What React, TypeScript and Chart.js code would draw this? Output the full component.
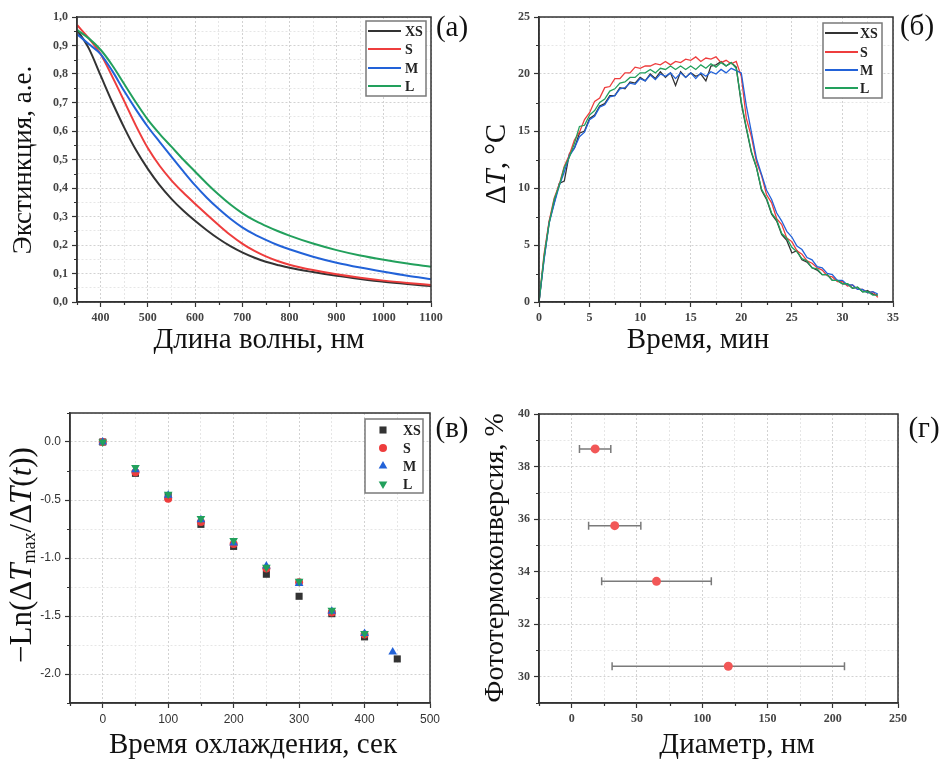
import React, { useEffect, useRef } from "react";
import { Chart, registerables } from "chart.js";
Chart.register(...registerables);

// ---------------- data: (a) extinction spectra ----------------
const wavelengthNm = [350, 375, 400, 425, 450, 475, 500, 525, 550, 575, 600, 625, 650, 675, 700, 725, 750, 775, 800, 850, 900, 950, 1000, 1050, 1100];
const extXS = [0.955, 0.89, 0.795, 0.70, 0.612, 0.533, 0.467, 0.41, 0.362, 0.321, 0.285, 0.252, 0.222, 0.196, 0.174, 0.156, 0.141, 0.13, 0.12, 0.105, 0.092, 0.081, 0.071, 0.063, 0.056];
const extS = [0.972, 0.925, 0.87, 0.79, 0.705, 0.618, 0.54, 0.478, 0.427, 0.384, 0.345, 0.307, 0.27, 0.235, 0.205, 0.18, 0.16, 0.144, 0.131, 0.112, 0.097, 0.085, 0.075, 0.067, 0.06];
const extM = [0.94, 0.905, 0.87, 0.81, 0.74, 0.675, 0.615, 0.562, 0.51, 0.459, 0.41, 0.366, 0.327, 0.292, 0.262, 0.238, 0.218, 0.2, 0.185, 0.159, 0.138, 0.121, 0.106, 0.092, 0.08];
const extL = [0.955, 0.925, 0.885, 0.83, 0.765, 0.70, 0.64, 0.59, 0.545, 0.5, 0.458, 0.416, 0.377, 0.342, 0.312, 0.287, 0.267, 0.249, 0.233, 0.205, 0.182, 0.163, 0.148, 0.135, 0.124];

// ---------------- data: (б) heating / cooling ----------------
const timeMin = [0, 0.5, 1, 1.5, 2, 2.5, 3, 3.5, 4, 4.5, 5, 5.5, 6, 6.5, 7, 7.5, 8, 8.5, 9, 9.5, 10, 10.5, 11, 11.5, 12, 12.5, 13, 13.5, 14, 14.5, 15, 15.5, 16, 16.5, 17, 17.5, 18, 18.5, 19, 19.5, 20, 20.5, 21, 21.5, 22, 22.5, 23, 23.5, 24, 24.5, 25, 25.5, 26, 26.5, 27, 27.5, 28, 28.5, 29, 29.5, 30, 30.5, 31, 31.5, 32, 32.5, 33, 33.5];
const dtXS = [0, 3.8, 7.0, 8.7, 10.4, 10.6, 13.0, 13.5, 14.8, 15.0, 16.1, 16.4, 17.2, 17.4, 18.1, 18.1, 18.8, 18.7, 19.3, 19.2, 19.7, 19.4, 20.0, 19.6, 20.2, 19.7, 20.1, 19.0, 20.2, 19.7, 20.1, 19.8, 20.0, 19.4, 20.7, 20.8, 21.1, 20.7, 21.0, 20.6, 17.4, 15.2, 13.1, 11.8, 9.8, 9.0, 7.7, 7.1, 5.9, 5.4, 4.3, 4.5, 3.7, 3.5, 3.0, 2.8, 2.4, 2.4, 1.9, 1.9, 1.6, 1.6, 1.2, 1.3, 0.9, 1.0, 0.7, 0.6];
const dtS = [0, 4.2, 7.1, 9.1, 10.3, 11.9, 12.9, 14.2, 14.9, 16.0, 16.6, 17.6, 17.9, 18.8, 18.9, 19.6, 19.6, 20.1, 20.1, 20.6, 20.5, 20.7, 20.7, 20.9, 20.8, 21.1, 20.8, 21.1, 21.0, 21.3, 21.2, 21.5, 21.1, 21.4, 21.3, 21.5, 21.0, 21.2, 20.9, 21.1, 19.8, 16.1, 14.5, 12.3, 11.1, 9.4, 8.7, 7.3, 6.8, 5.6, 5.3, 4.5, 4.2, 3.6, 3.4, 3.0, 2.8, 2.3, 2.2, 1.8, 1.8, 1.4, 1.5, 1.1, 1.1, 0.8, 0.9, 0.4];
const dtM = [0, 3.7, 6.9, 8.6, 10.2, 11.4, 12.8, 13.5, 14.5, 14.9, 16.0, 16.3, 17.1, 17.3, 18.0, 18.1, 18.7, 18.8, 19.2, 19.1, 19.6, 19.4, 19.9, 19.5, 20.0, 19.8, 20.1, 19.6, 20.1, 19.7, 20.1, 19.6, 20.1, 19.8, 20.2, 20.0, 20.4, 20.1, 20.5, 20.3, 20.1, 17.2, 14.9, 12.6, 11.2, 9.8, 9.0, 7.8, 7.1, 6.2, 5.7, 4.9, 4.6, 3.9, 3.7, 3.1, 3.0, 2.5, 2.4, 1.9, 1.9, 1.5, 1.5, 1.1, 1.1, 0.8, 0.9, 0.7];
const dtL = [0, 4.0, 6.9, 9.0, 10.2, 11.8, 12.7, 13.9, 15.4, 15.5, 16.4, 16.8, 17.5, 17.8, 18.5, 18.7, 19.2, 19.3, 19.7, 19.7, 20.1, 20.1, 20.4, 20.1, 20.5, 20.4, 20.7, 20.4, 20.7, 20.4, 20.7, 20.4, 20.8, 20.5, 20.9, 20.6, 21.0, 20.7, 21.0, 20.5, 17.6, 15.3, 13.2, 11.8, 9.9, 9.1, 7.8, 7.2, 6.0, 5.6, 4.8, 4.4, 3.8, 3.6, 3.0, 2.9, 2.4, 2.4, 1.9, 1.9, 1.6, 1.6, 1.2, 1.3, 0.9, 0.9, 0.6, 0.6];

// ---------------- data: (в) cooling linearisation ----------------
const coolTimeXS = [0, 50, 100, 150, 200, 250, 300, 350, 400, 450];
const lnXS = [0, -0.27, -0.47, -0.71, -0.9, -1.14, -1.33, -1.48, -1.68, -1.87];
const coolTimeS = [0, 50, 100, 150, 200, 250, 300, 350, 400];
const lnS = [0, -0.26, -0.49, -0.69, -0.88, -1.09, -1.21, -1.47, -1.66];
const coolTimeM = [0, 50, 100, 150, 200, 250, 300, 350, 400, 443];
const lnM = [0, -0.24, -0.46, -0.67, -0.87, -1.07, -1.22, -1.46, -1.65, -1.81];
const coolTimeL = [0, 50, 100, 150, 200, 250, 300, 350, 400];
const lnL = [0, -0.22, -0.45, -0.66, -0.85, -1.08, -1.2, -1.45, -1.65];

// ---------------- data: (г) conversion vs diameter ----------------
const diameterNm = [18, 33, 65, 120];
const diameterLow = [6, 13, 23, 31];
const diameterHigh = [30, 53, 107, 209];
const conversionPct = [38.67, 35.75, 33.63, 30.4];

const seriesNames = ["XS", "S", "M", "L"];
const seriesColors = ["#333333", "#ee3d3d", "#2262d8", "#22a05c"];

// ---------------- helpers ----------------
const serif = "'Liberation Serif', 'Times New Roman', serif";
const sans = "'Liberation Sans', Arial, sans-serif";
const tickFontSerif = { family: serif, size: 12, weight: "bold" as const };
const tickFontSans = { family: sans, size: 12 };

type Seg = { t: string; it?: boolean; sz?: number; dy?: number };
type Area = { l: number; t: number; r: number; b: number };

function isMul(v: number, m: number) {
  return Math.abs(v / m - Math.round(v / m)) < 1e-6;
}

function axis(o: { min: number; max: number; step: number; major: number; fmt: (v: number) => string; font: any; color: string }) {
  return {
    type: "linear",
    min: o.min,
    max: o.max,
    ticks: {
      stepSize: o.step,
      autoSkip: false,
      maxRotation: 0,
      minRotation: 0,
      padding: 4,
      font: o.font,
      color: o.color,
      callback: (v: any) => (isMul(Number(v), o.major) ? o.fmt(Number(v)) : ""),
    },
    grid: {
      color: (c: any) => (isMul(c.tick ? c.tick.value : 0, o.major) ? "#d2d2d2" : "#e6e6e6"),
      lineWidth: 1,
      drawTicks: true,
      tickLength: 5,
      tickWidth: 1.2,
      tickBorderDash: [],
      tickColor: (c: any) => (isMul(c.tick ? c.tick.value : 0, o.major) ? "#333" : "rgba(0,0,0,0)"),
    },
    border: { display: true, color: "#333", width: 1.5, dash: [2, 2] },
  };
}

function drawRich(ctx: CanvasRenderingContext2D, segs: Seg[], cx: number, cy: number, rot: number, size: number) {
  ctx.save();
  ctx.translate(cx, cy);
  ctx.rotate(rot);
  ctx.textBaseline = "middle";
  ctx.textAlign = "left";
  ctx.fillStyle = "#111";
  const fonts = segs.map((s) => `${s.it ? "italic " : ""}${s.sz ?? size}px ${serif}`);
  let total = 0;
  const widths = segs.map((s, i) => {
    ctx.font = fonts[i];
    const w = ctx.measureText(s.t).width;
    total += w;
    return w;
  });
  let x = -total / 2;
  segs.forEach((s, i) => {
    ctx.font = fonts[i];
    ctx.fillText(s.t, x, s.dy ?? 0);
    x += widths[i];
  });
  ctx.restore();
}

function drawMarker(ctx: CanvasRenderingContext2D, style: string, x: number, y: number, r: number, rot: number) {
  ctx.beginPath();
  if (style === "rect") {
    const h = Math.SQRT1_2 * r;
    ctx.rect(x - h, y - h, 2 * h, 2 * h);
  } else if (style === "circle") {
    ctx.arc(x, y, r, 0, Math.PI * 2);
  } else {
    const s = rot ? -1 : 1;
    ctx.moveTo(x, y - s * r);
    ctx.lineTo(x + r * 0.866, y + s * r * 0.5);
    ctx.lineTo(x - r * 0.866, y + s * r * 0.5);
    ctx.closePath();
  }
  ctx.fill();
}

type Deco = {
  xTitle: Seg[];
  xPos: [number, number];
  xSize: number;
  yTitle: Seg[];
  yPos: [number, number];
  ySize: number;
  tag: string;
  tagPos: [number, number];
  legend?: { box: [number, number, number, number]; rows: number[]; kind: "line" | "marker"; x1: number; x2: number; tx: number };
  errors?: { lo: number[]; hi: number[]; ys: number[] };
};

function deco(o: Deco) {
  return {
    id: "deco",
    beforeDatasetsDraw(chart: any) {
      if (!o.errors) return;
      const { ctx, scales } = chart;
      ctx.save();
      ctx.strokeStyle = "#7a7a7a";
      ctx.lineWidth = 1.5;
      o.errors.ys.forEach((yv, i) => {
        const y = scales.y.getPixelForValue(yv);
        const x1 = scales.x.getPixelForValue(o.errors!.lo[i]);
        const x2 = scales.x.getPixelForValue(o.errors!.hi[i]);
        ctx.beginPath();
        ctx.moveTo(x1, y);
        ctx.lineTo(x2, y);
        ctx.moveTo(x1, y - 4);
        ctx.lineTo(x1, y + 4);
        ctx.moveTo(x2, y - 4);
        ctx.lineTo(x2, y + 4);
        ctx.stroke();
      });
      ctx.restore();
    },
    afterDraw(chart: any) {
      const { ctx, chartArea: a, scales } = chart;
      ctx.save();
      // minor ticks
      ctx.strokeStyle = "#333";
      ctx.lineWidth = 1.2;
      ctx.beginPath();
      scales.x.ticks.forEach((t: any) => {
        if (t.label !== "") return;
        const px = Math.round(scales.x.getPixelForValue(t.value)) + 0.5;
        ctx.moveTo(px, a.bottom);
        ctx.lineTo(px, a.bottom + 3);
      });
      scales.y.ticks.forEach((t: any) => {
        if (t.label !== "") return;
        const py = Math.round(scales.y.getPixelForValue(t.value)) + 0.5;
        ctx.moveTo(a.left - 3, py);
        ctx.lineTo(a.left, py);
      });
      ctx.stroke();
      // frame
      ctx.lineWidth = 1.5;
      ctx.strokeStyle = "#333";
      ctx.strokeRect(a.left, a.top, a.right - a.left, a.bottom - a.top);
      // titles
      drawRich(ctx, o.xTitle, o.xPos[0], o.xPos[1], 0, o.xSize);
      drawRich(ctx, o.yTitle, o.yPos[0], o.yPos[1], -Math.PI / 2, o.ySize);
      drawRich(ctx, [{ t: o.tag }], o.tagPos[0], o.tagPos[1], 0, 29);
      // legend
      if (o.legend) {
        const L = o.legend;
        const [bx1, by1, bx2, by2] = L.box;
        ctx.fillStyle = "#fff";
        ctx.fillRect(bx1, by1, bx2 - bx1, by2 - by1);
        ctx.strokeStyle = "#7a7a7a";
        ctx.lineWidth = 1.5;
        ctx.strokeRect(bx1, by1, bx2 - bx1, by2 - by1);
        chart.data.datasets.forEach((ds: any, i: number) => {
          const y = L.rows[i];
          if (L.kind === "line") {
            ctx.strokeStyle = ds.borderColor;
            ctx.lineWidth = 2;
            ctx.beginPath();
            ctx.moveTo(L.x1, y);
            ctx.lineTo(L.x2, y);
            ctx.stroke();
          } else {
            ctx.fillStyle = ds.backgroundColor;
            drawMarker(ctx, ds.pointStyle, L.x1, y, ds.pointRadius, ds.rotation || 0);
          }
          ctx.fillStyle = "#222";
          ctx.font = `bold 14px ${serif}`;
          ctx.textBaseline = "middle";
          ctx.textAlign = "left";
          ctx.fillText(ds.label, L.tx, y + 1);
        });
      }
      ctx.restore();
    },
  };
}

function baseOptions(W: number, H: number, area: Area, xAxis: any, yAxis: any) {
  return {
    responsive: false,
    animation: false,
    devicePixelRatio: 1,
    events: [],
    layout: { padding: { left: 0, top: area.t, right: W - area.r, bottom: 0 } },
    plugins: { legend: { display: false }, tooltip: { enabled: false } },
    scales: {
      x: { ...xAxis, position: "bottom", afterFit: (s: any) => { s.height = H - area.b; } },
      y: { ...yAxis, position: "left", afterFit: (s: any) => { s.width = area.l; } },
    },
  };
}

// ---------------- panels ----------------
const PA = { left: 0, top: 0, W: 470, H: 375, area: { l: 77, t: 17, r: 431, b: 302 } };
const PB = { left: 470, top: 0, W: 471, H: 375, area: { l: 69, t: 17, r: 423, b: 302 } };
const PC = { left: 0, top: 380, W: 470, H: 380, area: { l: 70, t: 33, r: 430, b: 323 } };
const PD = { left: 470, top: 380, W: 471, H: 380, area: { l: 69, t: 34, r: 428, b: 323 } };

function makeA(): any {
  const comma = (v: number) => v.toFixed(1).replace(".", ",");
  return {
    type: "line",
    data: {
      datasets: [extXS, extS, extM, extL].map((arr, i) => ({
        label: seriesNames[i],
        data: wavelengthNm.map((x, j) => ({ x, y: arr[j] })),
        borderColor: seriesColors[i],
        backgroundColor: seriesColors[i],
        borderWidth: 2,
        pointRadius: 0,
        cubicInterpolationMode: "monotone",
        order: 4 - i,
      })),
    },
    options: baseOptions(
      PA.W, PA.H, PA.area,
      axis({ min: 350, max: 1100, step: 50, major: 100, fmt: (v) => String(v), font: tickFontSerif, color: "#444" }),
      axis({ min: 0, max: 1, step: 0.05, major: 0.1, fmt: comma, font: tickFontSerif, color: "#444" })
    ),
    plugins: [
      deco({
        xTitle: [{ t: "Длина волны, нм" }], xPos: [259, 340], xSize: 29,
        yTitle: [{ t: "Экстинкция, а.е." }], yPos: [24, 160], ySize: 27,
        tag: "(a)", tagPos: [452, 28],
        legend: { box: [366, 21, 426, 96], rows: [31, 49, 68, 86], kind: "line", x1: 368, x2: 401, tx: 405 },
      }),
    ],
  };
}

function makeB(): any {
  return {
    type: "line",
    data: {
      datasets: [dtXS, dtS, dtM, dtL].map((arr, i) => ({
        label: seriesNames[i],
        data: timeMin.map((x, j) => ({ x, y: arr[j] })),
        borderColor: seriesColors[i],
        backgroundColor: seriesColors[i],
        borderWidth: 1.3,
        pointRadius: 0,
        tension: 0,
        order: 4 - i,
      })),
    },
    options: baseOptions(
      PB.W, PB.H, PB.area,
      axis({ min: 0, max: 35, step: 2.5, major: 5, fmt: (v) => String(v), font: tickFontSerif, color: "#444" }),
      axis({ min: 0, max: 25, step: 2.5, major: 5, fmt: (v) => String(v), font: tickFontSerif, color: "#444" })
    ),
    plugins: [
      deco({
        xTitle: [{ t: "Время, мин" }], xPos: [228, 340], xSize: 29,
        yTitle: [{ t: "Δ" }, { t: "T", it: true }, { t: ", °C" }], yPos: [27, 164], ySize: 29,
        tag: "(б)", tagPos: [447, 27],
        legend: { box: [353, 23, 412, 98], rows: [33, 52, 70, 88], kind: "line", x1: 355, x2: 388, tx: 390 },
      }),
    ],
  };
}

function makeC(): any {
  const xs = [coolTimeXS, coolTimeS, coolTimeM, coolTimeL];
  const ys = [lnXS, lnS, lnM, lnL];
  const styles = ["rect", "circle", "triangle", "triangle"];
  const radii = [5, 4, 5, 5];
  const rots = [0, 0, 0, 180];
  return {
    type: "scatter",
    data: {
      datasets: ys.map((arr, i) => ({
        label: seriesNames[i],
        data: xs[i].map((x, j) => ({ x, y: arr[j] })),
        borderColor: seriesColors[i],
        backgroundColor: seriesColors[i],
        borderWidth: 0,
        pointStyle: styles[i],
        pointRadius: radii[i],
        rotation: rots[i],
        pointRotation: rots[i],
        order: 4 - i,
      })),
    },
    options: baseOptions(
      PC.W, PC.H, PC.area,
      axis({ min: -50, max: 500, step: 50, major: 100, fmt: (v) => String(v), font: tickFontSans, color: "#333" }),
      axis({ min: -2.25, max: 0.25, step: 0.25, major: 0.5, fmt: (v) => v.toFixed(1), font: tickFontSans, color: "#333" })
    ),
    plugins: [
      deco({
        xTitle: [{ t: "Время охлаждения, сек" }], xPos: [253, 365], xSize: 29,
        yTitle: [
          { t: "−Ln(Δ" },
          { t: "T", it: true },
          { t: "max", sz: 18, dy: 7 },
          { t: "/Δ" },
          { t: "T", it: true },
          { t: "(" },
          { t: "t", it: true },
          { t: "))" },
        ],
        yPos: [23, 175], ySize: 31,
        tag: "(в)", tagPos: [452, 49],
        legend: { box: [365, 39, 423, 113], rows: [50, 68, 86, 104], kind: "marker", x1: 383, x2: 383, tx: 403 },
      }),
    ],
  };
}

function makeD(): any {
  return {
    type: "scatter",
    data: {
      datasets: [
        {
          label: "conversion",
          data: diameterNm.map((x, j) => ({ x, y: conversionPct[j] })),
          borderColor: "#f25757",
          backgroundColor: "#f25757",
          borderWidth: 0,
          pointRadius: 4.5,
        },
      ],
    },
    options: baseOptions(
      PD.W, PD.H, PD.area,
      axis({ min: -25, max: 250, step: 25, major: 50, fmt: (v) => String(v), font: tickFontSerif, color: "#444" }),
      axis({ min: 29, max: 40, step: 1, major: 2, fmt: (v) => String(v), font: tickFontSerif, color: "#444" })
    ),
    plugins: [
      deco({
        xTitle: [{ t: "Диаметр, нм" }], xPos: [267, 365], xSize: 29,
        yTitle: [{ t: "Фототермоконверсия, %" }], yPos: [26, 178], ySize: 28,
        tag: "(г)", tagPos: [454, 49],
        errors: { lo: diameterLow, hi: diameterHigh, ys: conversionPct },
      }),
    ],
  };
}

function Panel({ p, make }: { p: { left: number; top: number; W: number; H: number }; make: () => any }) {
  const ref = useRef<HTMLCanvasElement>(null);
  useEffect(() => {
    const chart = new Chart(ref.current as HTMLCanvasElement, make());
    return () => chart.destroy();
  }, []);
  return (
    <canvas
      ref={ref}
      width={p.W}
      height={p.H}
      style={{ position: "absolute", left: p.left, top: p.top, width: p.W, height: p.H }}
    />
  );
}

export default function App() {
  return (
    <div style={{ position: "absolute", left: 0, top: 0, width: 941, height: 760, background: "#fff", overflow: "hidden" }}>
      <Panel p={PA} make={makeA} />
      <Panel p={PB} make={makeB} />
      <Panel p={PC} make={makeC} />
      <Panel p={PD} make={makeD} />
    </div>
  );
}
